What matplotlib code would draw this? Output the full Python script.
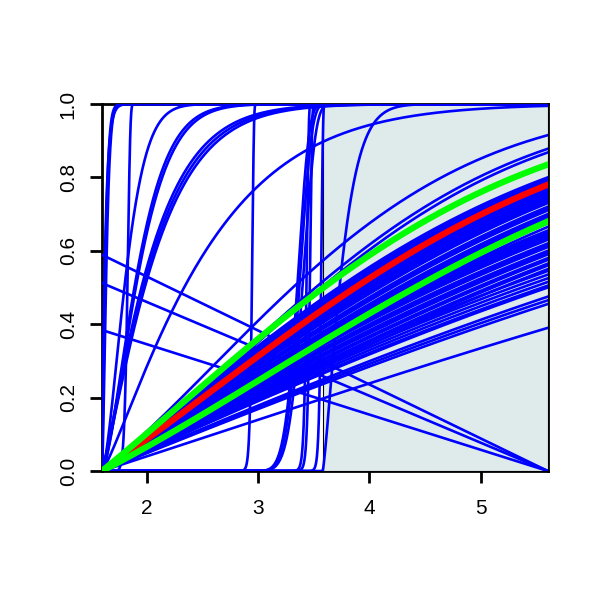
import numpy as np
import matplotlib
matplotlib.use("Agg")
import matplotlib.pyplot as plt
from matplotlib.patches import Rectangle

# axis range
x_lo, x_hi = 1.6, 5.6
shade_from = 3.58

# fan curves from (1.6, 0): value reached at x = 5.6, and how straight they run
top_end = [0.915, 0.878, 0.868]
top_lin = 0.4
band_hi_end = [0.80, 0.795, 0.79, 0.785, 0.78, 0.77, 0.765, 0.76, 0.755, 0.75,
               0.745, 0.74, 0.735, 0.73, 0.72, 0.715, 0.71, 0.70, 0.695, 0.69,
               0.685, 0.675, 0.665]
band_hi_lin = 0.6
band_mid_end = [0.655, 0.65, 0.645, 0.64, 0.635, 0.63, 0.62, 0.615, 0.61, 0.60,
                0.595, 0.59, 0.58, 0.575, 0.565, 0.56, 0.55]
band_mid_lin = 0.7
band_lo_end = [0.545, 0.535, 0.525, 0.515, 0.505, 0.50, 0.475, 0.465, 0.455]
band_lo_lin = 0.8
low_end = [0.39]
low_lin = 0.8
red_end = [0.78]
green_end = [0.835, 0.68]
thick_lin = 0.55

# other CDF curves: start, scale, shape
cdf_start = [1.6, 1.6, 1.6, 1.6, 1.6, 1.6, 1.6, 1.6, 1.6, 1.6, 1.6,
             1.6, 2.9, 2.9, 2.9, 1.6, 1.6, 1.6, 3.58]
cdf_scale = [0.03, 0.035, 0.045, 0.235, 0.2546, 0.3735, 0.39, 0.48, 0.50, 0.52, 1.0,
             1.35, 0.48, 0.50, 0.53, 1.84, 1.87, 1.97, 0.2]
cdf_shape = [1.0, 1.3, 1.5, 12, 1.55, 1.46, 1.46, 1.2, 1.2, 1.2, 1.2,
             100, 6, 6, 6, 120, 120, 150, 1.3]

# straight falling lines: value at x = 1.6, reaching 0 at x = 5.6
fall_start = [0.589, 0.512, 0.384]

x_ticks = [2, 3, 4, 5]
y_ticks = [0.0, 0.2, 0.4, 0.6, 0.8, 1.0]

plt.rcParams['font.family'] = ['Liberation Sans', 'DejaVu Sans']

fig = plt.figure(figsize=(6, 6), dpi=100)
ax = fig.add_axes([0.17, 0.215, 0.743, 0.6117])

x = np.linspace(x_lo, x_hi, 3000)
span = x_hi - x_lo


def fan(end, lin):
    # cumulative hazard mixes a straight and a quadratic part
    u = (x - x_lo) / span
    h = -np.log(1 - end) * (lin * u + (1 - lin) * u ** 2)
    return 1 - np.exp(-h)


def cdf(start, scale, shape):
    t = np.clip(x - start, 0, None)
    return 1 - np.exp(-(t / scale) ** shape)


ax.add_patch(Rectangle((shade_from, 0), x_hi - shade_from, 1,
                       facecolor="#dfebeb", edgecolor="black", lw=0.8, zorder=2.6))

blue = dict(color="#0000ff", lw=1.9, zorder=3)
for e in top_end:
    ax.plot(x, fan(e, top_lin), **blue)
for e in band_hi_end:
    ax.plot(x, fan(e, band_hi_lin), **blue)
for e in band_mid_end:
    ax.plot(x, fan(e, band_mid_lin), **blue)
for e in band_lo_end:
    ax.plot(x, fan(e, band_lo_lin), **blue)
for e in low_end:
    ax.plot(x, fan(e, low_lin), **blue)
for s0, sc, sh in zip(cdf_start, cdf_scale, cdf_shape):
    ax.plot(x, cdf(s0, sc, sh), **blue)
for v in fall_start:
    ax.plot(x, v * (x_hi - x) / span, **blue)

for e in red_end:
    ax.plot(x, fan(e, thick_lin), color="#ff0000", lw=4.5, zorder=4)
for e in green_end:
    ax.plot(x, fan(e, thick_lin), color="#00ff00", lw=4.5, zorder=5)

ax.set_xlim(x_lo, x_hi)
ax.set_ylim(0, 1)
ax.set_xticks(x_ticks)
ax.set_yticks(y_ticks)
ax.set_yticklabels([f"{v:.1f}" for v in y_ticks], rotation=90, va="center")
ax.tick_params(direction="out", length=8.5, width=2, labelsize=15)
ax.tick_params(axis="x", pad=12)
ax.tick_params(axis="y", pad=9)
for sp in ax.spines.values():
    sp.set_linewidth(2)
    sp.set_zorder(2.5)

fig.savefig("out.png", dpi=100)
